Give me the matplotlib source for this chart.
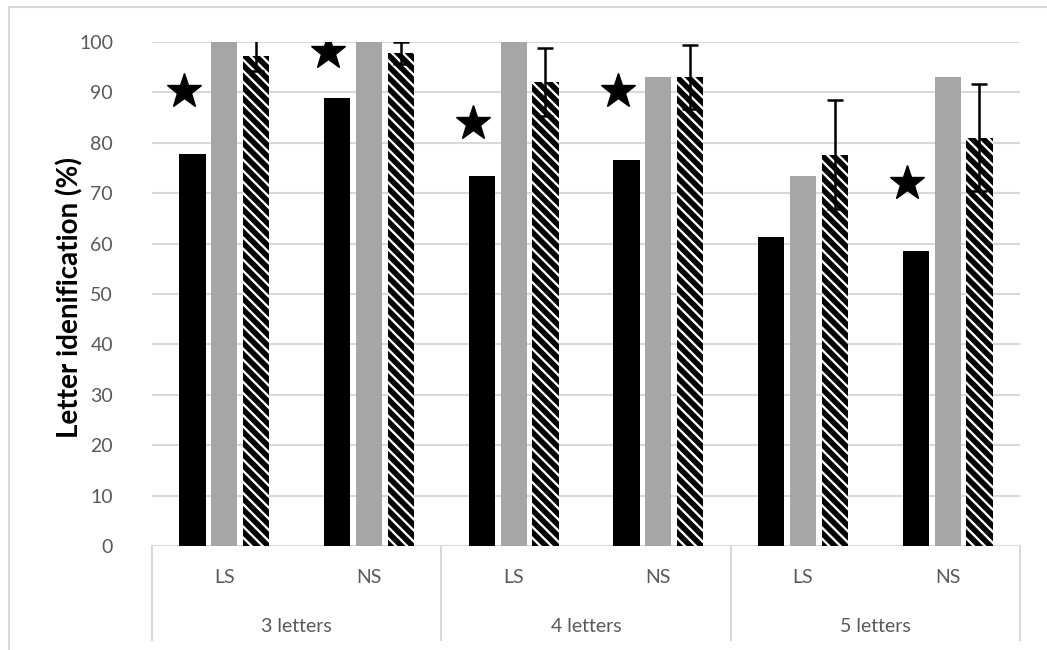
import matplotlib.pyplot as plt
from matplotlib.lines import Line2D
import numpy as np

plt.rcParams['font.family'] = ['Lato', 'DejaVu Sans']
plt.rcParams['hatch.linewidth'] = 4.0

# данные
groups = ['3 letters', '4 letters', '5 letters']
subgroups = ['LS', 'NS']
black_vals = [77.8, 88.9, 73.4, 76.6, 61.3, 58.5]
gray_vals = [100, 100, 100, 93.1, 73.4, 93.1]
hatch_vals = [97.3, 97.8, 92.1, 93.1, 77.6, 81.0]
hatch_err = [3.0, 2.2, 6.7, 6.4, 10.8, 10.6]
# звёздочки: номер подгруппы и высота
star_idx = [0, 1, 2, 3, 5]
star_y = [90.3, 98.0, 83.9, 90.3, 72.0]

grid_col = '#d9d9d9'
text_col = '#595959'

fig = plt.figure(figsize=(10.47, 6.5), dpi=100)
ax = fig.add_axes([152 / 1047, 104 / 650, 868 / 1047, 504 / 650])

x = np.arange(len(black_vals)) + 0.5
w = 0.18
off = 0.22

ax.bar(x - off, black_vals, w, color='black', zorder=3)
ax.bar(x, gray_vals, w, color='#a6a6a6', zorder=3)
ax.bar(x + off, hatch_vals, w, color='white', edgecolor='black',
       linewidth=0, hatch='\\\\\\', zorder=3)
ax.errorbar(x + off, hatch_vals, yerr=hatch_err, fmt='none', ecolor='black',
            elinewidth=1.8, capsize=6, capthick=1.8, zorder=4)

sx = np.array([x[i] - off - 0.06 for i in star_idx])
ax.plot(sx, star_y, linestyle='none', marker='*', markersize=26,
        color='black', zorder=5)

ax.set_xlim(0, 6)
ax.set_ylim(0, 100)
ax.set_yticks(range(0, 101, 10))
ax.tick_params(axis='y', length=0, labelsize=14, labelcolor=text_col, pad=28)
ax.set_xticks([])
ax.yaxis.grid(True, color=grid_col, linewidth=1.5, zorder=0)
ax.set_axisbelow(True)
for s in ax.spines.values():
    s.set_visible(False)

# подписи категорий
trans = ax.get_xaxis_transform()
for i, xi in enumerate(x):
    ax.text(xi, -0.062, subgroups[i % 2], transform=trans, ha='center',
            va='center', fontsize=14, color=text_col)
for g, name in enumerate(groups):
    ax.text(2 * g + 1, -0.159, name, transform=trans, ha='center',
            va='center', fontsize=14, color=text_col)
for b in range(4):
    ax.add_line(Line2D([2 * b, 2 * b], [0, -0.186], transform=trans,
                       color=grid_col, linewidth=1.5, clip_on=False))

fig.text(70 / 1047, 1 - 297 / 650, 'Letter idenification (%)', rotation=90,
         ha='center', va='center', fontsize=20, fontweight='bold')

# рамка диаграммы
fig.add_artist(Line2D([9 / 1047, 9 / 1047], [0, 1 - 7 / 650], color=grid_col,
                      linewidth=1.5, transform=fig.transFigure))
fig.add_artist(Line2D([9 / 1047, 1], [1 - 7 / 650, 1 - 7 / 650], color=grid_col,
                      linewidth=1.5, transform=fig.transFigure))

fig.savefig('out.png', dpi=100)
